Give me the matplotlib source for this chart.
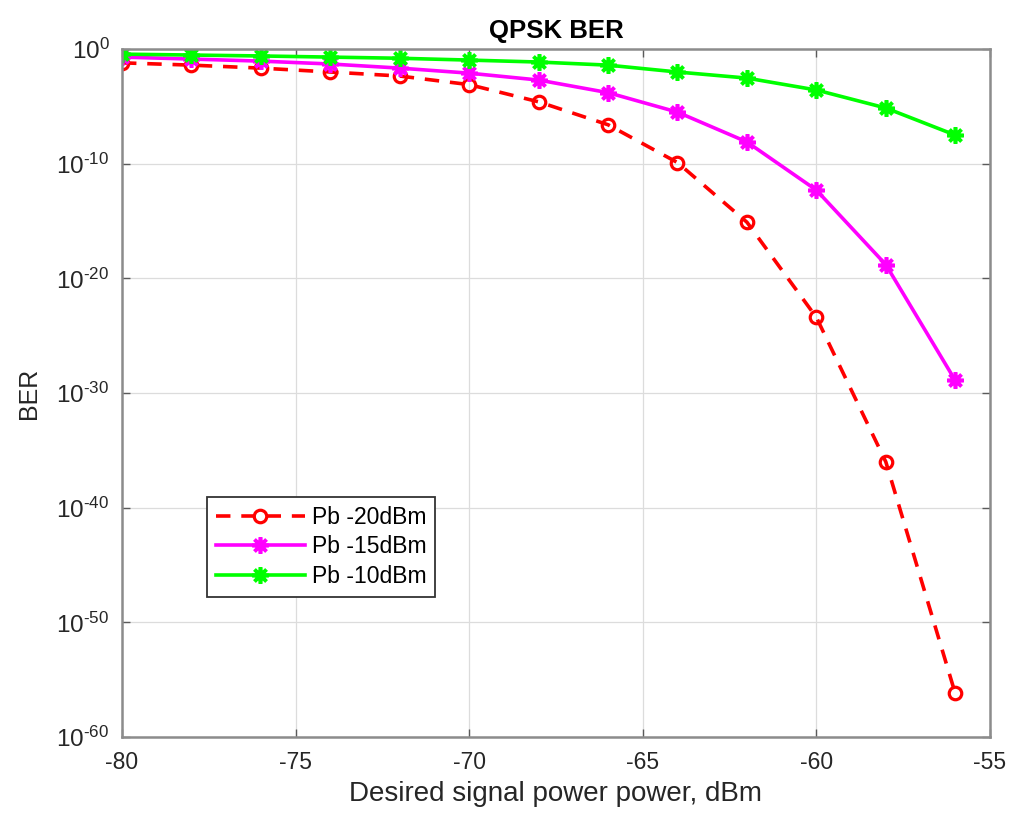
import numpy as np
import matplotlib
matplotlib.use("Agg")
import matplotlib.pyplot as plt
from matplotlib.ticker import FixedLocator, FixedFormatter, NullLocator

plt.rcParams['font.family'] = ['Liberation Sans', 'DejaVu Sans']
plt.rcParams['axes.unicode_minus'] = False
plt.rcParams['mathtext.fontset'] = 'custom'
plt.rcParams['mathtext.rm'] = 'Liberation Sans'
plt.rcParams['mathtext.it'] = 'Liberation Sans'
plt.rcParams['mathtext.bf'] = 'Liberation Sans:bold'

# desired signal power, dBm
power = [-80, -78, -76, -74, -72, -70, -68, -66, -64, -62, -60, -58, -56]

# log10(BER)
log_ber_20 = [-1.2, -1.4, -1.66, -2.0, -2.35, -3.1, -4.6, -6.6, -9.9, -15.1, -23.4, -36.0, -56.2]
log_ber_15 = [-0.7, -0.87, -1.05, -1.3, -1.66, -2.1, -2.7, -3.8, -5.5, -8.1, -12.3, -18.8, -28.9]
log_ber_10 = [-0.44, -0.52, -0.6, -0.7, -0.8, -0.96, -1.13, -1.4, -2.0, -2.53, -3.57, -5.14, -7.5]

labels = ['Pb -20dBm', 'Pb -15dBm', 'Pb -10dBm']
xticks = [-80, -75, -70, -65, -60, -55]
yexps = [-60, -50, -40, -30, -20, -10, 0]

ber_20 = 10.0 ** np.array(log_ber_20)
ber_15 = 10.0 ** np.array(log_ber_15)
ber_10 = 10.0 ** np.array(log_ber_10)

fig = plt.figure(figsize=(10.14, 8.18), dpi=100)
ax = fig.add_axes([0.1203, 0.099, 0.856, 0.841])

star = (8, 2, 0)
ax.semilogy(power, ber_20, 'r--o', lw=2.6, ms=9, mew=2.3, mfc='none', dashes=(4, 3), label=labels[0])
ax.semilogy(power, ber_15, '-', marker=star, color='#ff00ff', lw=2.6, ms=12, mew=2.6, label=labels[1])
ax.semilogy(power, ber_10, '-', marker=star, color='#00ff00', lw=2.6, ms=12, mew=2.6, label=labels[2])

ax.set_xlim(-80, -55)
ax.set_ylim(1e-60, 1e0)
ax.set_xticks(xticks)
ax.set_xticklabels([str(v) for v in xticks])
ax.yaxis.set_major_locator(FixedLocator([10.0 ** k for k in yexps]))
ax.yaxis.set_major_formatter(FixedFormatter([r'$10^{\text{%d}}$' % k for k in yexps]))
ax.yaxis.set_minor_locator(NullLocator())

ax.grid(True, color='#dcdcdc', lw=0.9)
ax.set_axisbelow(True)
for s in ax.spines.values():
    s.set_color('#8c8c8c')
    s.set_linewidth(1.8)
ax.tick_params(which='both', direction='in', top=True, right=True, length=6,
               width=1, color='#5a5a5a', labelcolor='#262626')
ax.tick_params(axis='x', labelsize=16.5, pad=10)
ax.tick_params(axis='y', labelsize=17.5, pad=9)

ax.set_xlabel('Desired signal power power, dBm', fontsize=20, color='#262626', labelpad=5)
ax.set_ylabel('BER', fontsize=18, color='#262626', labelpad=11)
ax.set_title('QPSK BER', fontsize=18.5, fontweight='bold', pad=8)

leg = ax.legend(loc='lower left', bbox_to_anchor=(0.098, 0.2035), borderaxespad=0,
                fontsize=16.5, handlelength=3.9, fancybox=False, framealpha=1, borderpad=0.38,
                labelspacing=0.3, handletextpad=0.3)
leg.get_frame().set_edgecolor('#333333')
leg.get_frame().set_linewidth(1.3)

fig.savefig('out.png', dpi=100)
